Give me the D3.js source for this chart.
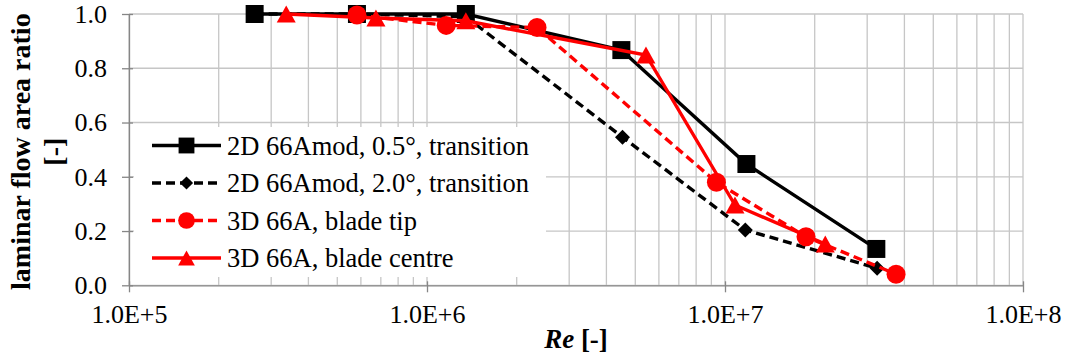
<!DOCTYPE html>
<html lang="en">
<head>
    <meta charset="UTF-8">
    <title>Laminar flow area ratio</title>
    <script src="https://d3js.org/d3.v7.min.js"></script>
    <style>
        body { margin: 0; background: #fff; }
        svg text { font-family: "Liberation Serif", Tinos, "Times New Roman", Times, "DejaVu Serif", serif; fill: #000; }
        .grid line { stroke: #c6c6c6; stroke-width: 1.3; }
        .axis path, .axis line { stroke: #868686; stroke-width: 1.3; }
        .axis text { font-size: 26px; }
    </style>
</head>
<body>
<div id="chart"></div>
<script>
    // data
    const seriesNames = [
        "2D 66Amod, 0.5°, transition",
        "2D 66Amod, 2.0°, transition",
        "3D 66A, blade tip",
        "3D 66A, blade centre"
    ];
    const re2d05 = [2.64e5, 5.82e5, 1.35e6, 4.49e6, 1.18e7, 3.22e7];
    const ratio2d05 = [1.0, 1.0, 1.0, 0.867, 0.447, 0.134];
    const re2d20 = [2.64e5, 5.82e5, 1.35e6, 4.53e6, 1.17e7, 3.24e7];
    const ratio2d20 = [1.0, 1.0, 0.99, 0.546, 0.204, 0.063];
    const re3dTip = [5.82e5, 1.16e6, 2.34e6, 9.36e6, 1.87e7, 3.75e7];
    const ratio3dTip = [0.996, 0.958, 0.95, 0.38, 0.179, 0.041];
    const re3dCentre = [3.37e5, 6.74e5, 1.35e6, 5.43e6, 1.08e7, 2.17e7];
    const ratio3dCentre = [1.0, 0.985, 0.975, 0.849, 0.296, 0.152];
    const xTickValues = [1e5, 1e6, 1e7, 1e8];
    const xTickLabels = ["1.0E+5", "1.0E+6", "1.0E+7", "1.0E+8"];
    const yTickValues = [0, 0.2, 0.4, 0.6, 0.8, 1.0];

    const W = 1073, H = 358;
    const plotLeft = 129, plotRight = 1023, plotTop = 14, plotBottom = 285.3;
    const serif = '"Liberation Serif", Tinos, "Times New Roman", Times, "DejaVu Serif", serif';

    const svg = d3.select("#chart").append("svg")
        .attr("width", W).attr("height", H)
        .attr("font-family", serif);

    const x = d3.scaleLog().domain([1e5, 1e8]).range([plotLeft, plotRight]);
    const y = d3.scaleLinear().domain([0, 1]).range([plotBottom, plotTop]);

    // gridlines (log minor lines in every decade)
    const grid = svg.append("g").attr("class", "grid");
    grid.selectAll(".vx").data(x.ticks()).join("line")
        .attr("x1", d => x(d)).attr("x2", d => x(d))
        .attr("y1", plotTop).attr("y2", plotBottom);
    grid.selectAll(".hy").data(yTickValues).join("line")
        .attr("x1", plotLeft).attr("x2", plotRight)
        .attr("y1", d => y(d)).attr("y2", d => y(d));

    // axes
    const yAxis = svg.append("g").attr("class", "axis")
        .attr("transform", `translate(${plotLeft},0)`)
        .call(d3.axisLeft(y).tickValues(yTickValues).tickFormat(d3.format(".1f"))
            .tickSizeInner(7).tickSizeOuter(0).tickPadding(15))
        .attr("font-family", serif);
    yAxis.selectAll(".tick line").attr("x2", 4).attr("x1", -7);

    const xAxis = svg.append("g").attr("class", "axis")
        .attr("transform", `translate(0,${plotBottom})`)
        .call(d3.axisBottom(x).tickValues(xTickValues)
            .tickFormat((d, i) => xTickLabels[i])
            .tickSizeInner(7).tickSizeOuter(0).tickPadding(12))
        .attr("font-family", serif);
    xAxis.selectAll(".tick line").attr("y1", -4);
    xAxis.selectAll(".tick text").attr("dy", "0.72em");

    // series
    const series = [
        {xs: re2d05, ys: ratio2d05, color: "#000", dash: null, marker: "square"},
        {xs: re2d20, ys: ratio2d20, color: "#000", dash: "9,5", marker: "diamond"},
        {xs: re3dTip, ys: ratio3dTip, color: "#ff0000", dash: "9,5", marker: "circle"},
        {xs: re3dCentre, ys: ratio3dCentre, color: "#ff0000", dash: null, marker: "triangle"}
    ];

    function markerPath(type, s) {
        if (type === "square") return `M${-s/2},${-s/2}h${s}v${s}h${-s}Z`;
        if (type === "diamond") return `M0,${-s/2}L${s/2},0L0,${s/2}L${-s/2},0Z`;
        if (type === "triangle") return `M0,${-s*0.45}L${s/2},${s*0.45}L${-s/2},${s*0.45}Z`;
        const r = s / 2;
        return `M${-r},0a${r},${r} 0 1,0 ${2*r},0a${r},${r} 0 1,0 ${-2*r},0Z`;
    }
    const markerSize = {square: 18, diamond: 15, circle: 19, triangle: 19};

    const line = d3.line().x(d => x(d[0])).y(d => y(d[1]));

    series.forEach(s => {
        const pts = s.xs.map((v, i) => [v, s.ys[i]]);
        const g = svg.append("g");
        g.append("path")
            .attr("d", line(pts))
            .attr("fill", "none")
            .attr("stroke", s.color)
            .attr("stroke-width", 3.4)
            .attr("stroke-dasharray", s.dash);
        g.selectAll("path.m").data(pts).join("path")
            .attr("class", "m")
            .attr("transform", d => `translate(${x(d[0])},${y(d[1])})`)
            .attr("d", markerPath(s.marker, markerSize[s.marker]))
            .attr("fill", s.color);
    });

    // legend
    const legend = svg.append("g");
    legend.append("rect")
        .attr("x", 134).attr("y", 127).attr("width", 412).attr("height", 150)
        .attr("fill", "#fff");
    series.forEach((s, i) => {
        const cy = 145.5 + i * 37.5;
        legend.append("line")
            .attr("x1", 152).attr("x2", 221).attr("y1", cy).attr("y2", cy)
            .attr("stroke", s.color).attr("stroke-width", 3.4)
            .attr("stroke-dasharray", s.dash);
        legend.append("path")
            .attr("transform", `translate(186.5,${cy})`)
            .attr("d", markerPath(s.marker, markerSize[s.marker] * 0.88))
            .attr("fill", s.color);
        legend.append("text")
            .attr("x", 227).attr("y", cy).attr("dy", "0.35em")
            .style("font-size", "26.5px")
            .text(seriesNames[i]);
    });

    // axis titles
    const yTitle = svg.append("text")
        .attr("transform", `translate(30,${(plotTop + plotBottom) / 2 + 2}) rotate(-90)`)
        .attr("text-anchor", "middle")
        .style("font-size", "28px").style("font-weight", "bold");
    yTitle.append("tspan").attr("x", 0).attr("y", 0).text("laminar flow area ratio");
    yTitle.append("tspan").attr("x", 0).attr("y", 33).text("[-]");

    const xTitle = svg.append("text")
        .attr("x", (plotLeft + plotRight) / 2).attr("y", 348)
        .attr("text-anchor", "middle")
        .style("font-size", "27px").style("font-weight", "bold");
    xTitle.append("tspan").style("font-style", "italic").text("Re");
    xTitle.append("tspan").text(" [-]");
</script>
</body>
</html>
